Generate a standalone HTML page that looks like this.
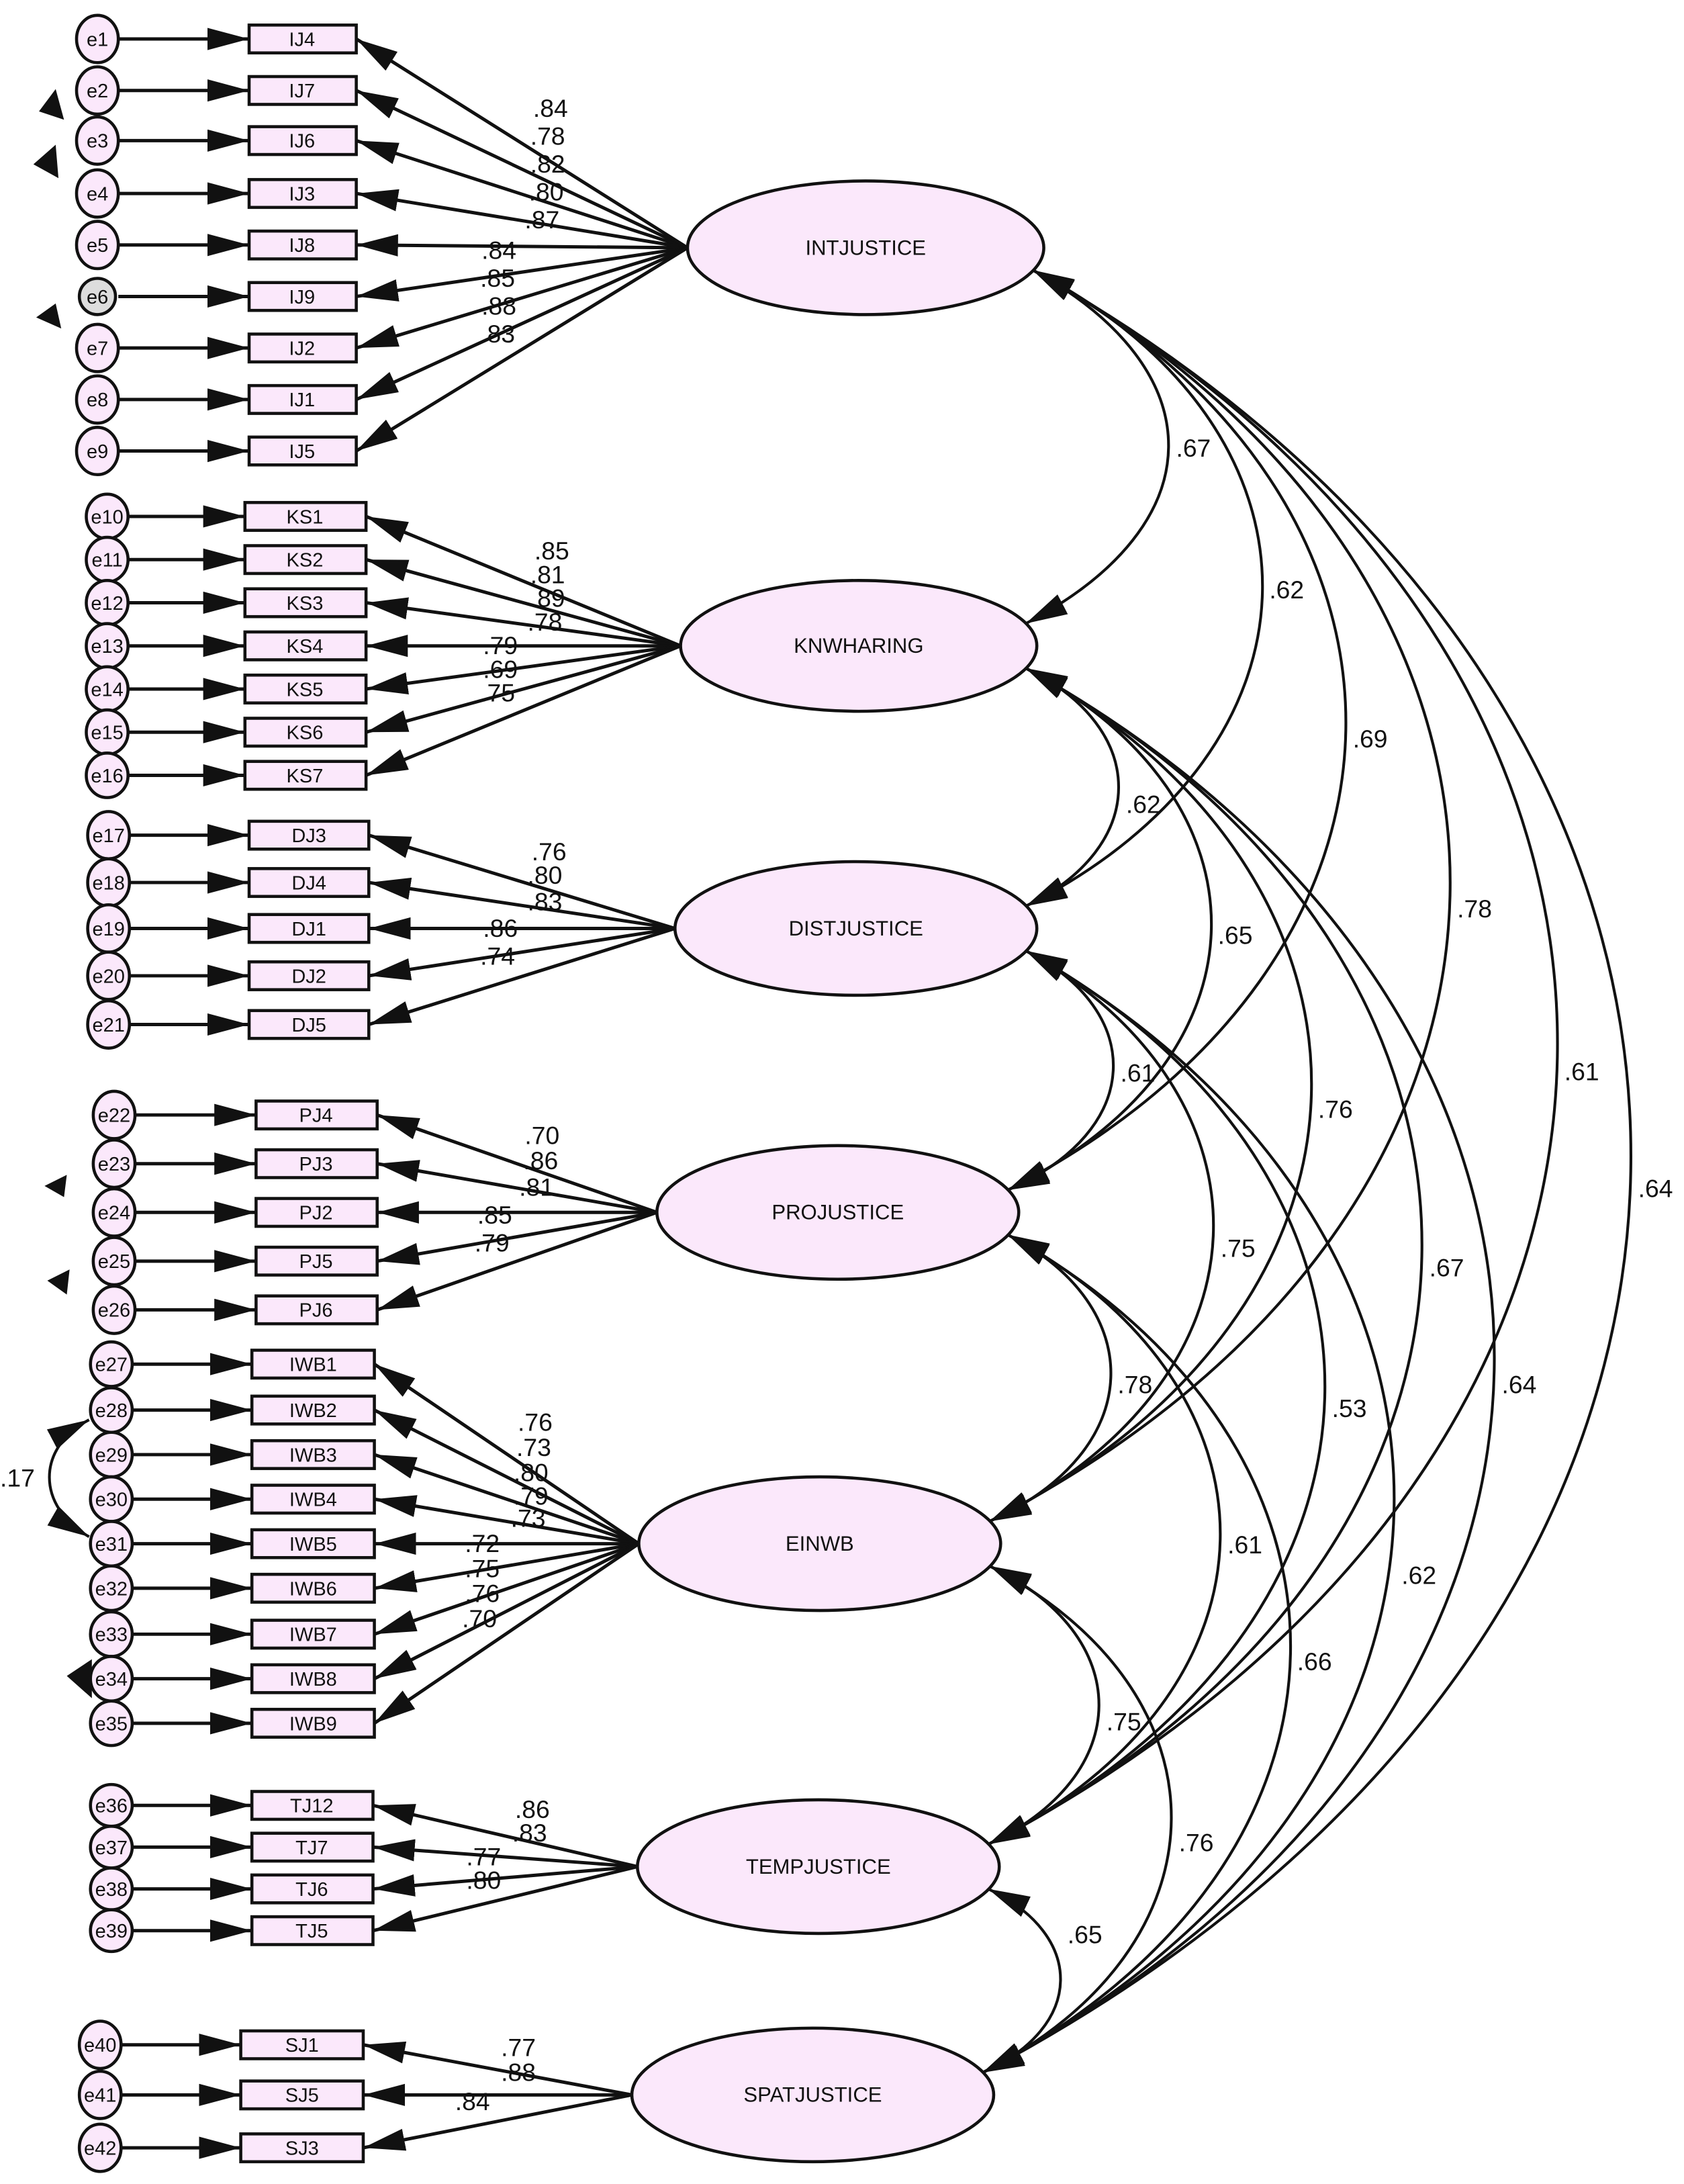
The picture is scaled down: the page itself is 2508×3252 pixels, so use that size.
<!DOCTYPE html>
<html><head><meta charset="utf-8"><style>
html,body{margin:0;padding:0;background:#fff;}
svg{display:block;}
text{font-family:"Liberation Sans",sans-serif;fill:#111;}
.b{fill:#fbe8fb;stroke:#111;stroke-width:2.2;}
.l{stroke:#111;stroke-width:2.4;fill:none;marker-end:url(#m2);}
.a{stroke:#111;stroke-width:2;fill:none;marker-start:url(#m);marker-end:url(#m);}
.nt{font-size:14px;text-anchor:middle;}
.lt{font-size:18px;}
.et{font-size:15px;text-anchor:middle;}
</style></head><body>
<svg width="2508" height="3252" viewBox="0 0 1210 1569" preserveAspectRatio="none" xmlns="http://www.w3.org/2000/svg">
<defs>
<marker id="m" markerUnits="userSpaceOnUse" markerWidth="32" markerHeight="18" refX="30" refY="8" orient="auto-start-reverse">
<path d="M0,0 L30,8 L0,16 z" fill="#111"/>
</marker>
<marker id="m2" markerUnits="userSpaceOnUse" markerWidth="32" markerHeight="18" refX="30" refY="8" orient="auto">
<path d="M0,0 L30,8 L0,16 z" fill="#111"/>
</marker>
</defs>
<g>
<!-- IJ -->
<path class="l" d="M85,28H179"/><path class="l" d="M85,65H179"/><path class="l" d="M85,101H179"/><path class="l" d="M85,139H179"/><path class="l" d="M85,176H179"/><path class="l" d="M85,213H179"/><path class="l" d="M85,250H179"/><path class="l" d="M85,287H179"/><path class="l" d="M85,324H179"/>
<path class="l" d="M494,178L256,28"/><path class="l" d="M494,178L256,65"/><path class="l" d="M494,178L256,101"/><path class="l" d="M494,178L256,139"/><path class="l" d="M494,178L256,176"/><path class="l" d="M494,178L256,213"/><path class="l" d="M494,178L256,250"/><path class="l" d="M494,178L256,287"/><path class="l" d="M494,178L256,324"/>
<!-- KS -->
<path class="l" d="M92,371H176"/><path class="l" d="M92,402H176"/><path class="l" d="M92,433H176"/><path class="l" d="M92,464H176"/><path class="l" d="M92,495H176"/><path class="l" d="M92,526H176"/><path class="l" d="M92,557H176"/>
<path class="l" d="M489,464L263,371"/><path class="l" d="M489,464L263,402"/><path class="l" d="M489,464L263,433"/><path class="l" d="M489,464L263,464"/><path class="l" d="M489,464L263,495"/><path class="l" d="M489,464L263,526"/><path class="l" d="M489,464L263,557"/>
<!-- DJ -->
<path class="l" d="M93,600H179"/><path class="l" d="M93,634H179"/><path class="l" d="M93,667H179"/><path class="l" d="M93,701H179"/><path class="l" d="M93,736H179"/>
<path class="l" d="M485,667L265,600"/><path class="l" d="M485,667L265,634"/><path class="l" d="M485,667L265,667"/><path class="l" d="M485,667L265,701"/><path class="l" d="M485,667L265,736"/>
<!-- PJ -->
<path class="l" d="M97,801H184"/><path class="l" d="M97,836H184"/><path class="l" d="M97,871H184"/><path class="l" d="M97,906H184"/><path class="l" d="M97,941H184"/>
<path class="l" d="M472,871L271,801"/><path class="l" d="M472,871L271,836"/><path class="l" d="M472,871L271,871"/><path class="l" d="M472,871L271,906"/><path class="l" d="M472,871L271,941"/>
<!-- IWB -->
<path class="l" d="M95,980H181"/><path class="l" d="M95,1013H181"/><path class="l" d="M95,1045H181"/><path class="l" d="M95,1077H181"/><path class="l" d="M95,1109H181"/><path class="l" d="M95,1141H181"/><path class="l" d="M95,1174H181"/><path class="l" d="M95,1206H181"/><path class="l" d="M95,1238H181"/>
<path class="l" d="M459,1109L269,980"/><path class="l" d="M459,1109L269,1013"/><path class="l" d="M459,1109L269,1045"/><path class="l" d="M459,1109L269,1077"/><path class="l" d="M459,1109L269,1109"/><path class="l" d="M459,1109L269,1141"/><path class="l" d="M459,1109L269,1174"/><path class="l" d="M459,1109L269,1206"/><path class="l" d="M459,1109L269,1238"/>
<path class="a" d="M64,1020 C26,1040 26,1082 64,1104"/>
<!-- TJ -->
<path class="l" d="M95,1297H181"/><path class="l" d="M95,1327H181"/><path class="l" d="M95,1357H181"/><path class="l" d="M95,1387H181"/>
<path class="l" d="M458,1341L268,1297"/><path class="l" d="M458,1341L268,1327"/><path class="l" d="M458,1341L268,1357"/><path class="l" d="M458,1341L268,1387"/>
<!-- SJ -->
<path class="l" d="M87,1469H173"/><path class="l" d="M87,1505H173"/><path class="l" d="M87,1543H173"/>
<path class="l" d="M454,1505L261,1469"/><path class="l" d="M454,1505L261,1505"/><path class="l" d="M454,1505L261,1543"/>
</g>

<g>
<path class="a" d="M742,194 C873,266 873,377 737,448"/>
<path class="a" d="M742,194 C963,308 963,537 737,651"/>
<path class="a" d="M742,194 C1045,359 1045,690 724,855"/>
<path class="a" d="M742,194 C1147,419 1147,868 711,1093"/>
<path class="a" d="M742,194 C1250,477 1250,1042 710,1325"/>
<path class="a" d="M742,194 C1321,518 1321,1165 706,1489"/>
<path class="a" d="M737,480 C826,523 826,608 737,651"/>
<path class="a" d="M737,480 C917,574 917,761 724,855"/>
<path class="a" d="M737,480 C1015,633 1015,940 711,1093"/>
<path class="a" d="M737,480 C1121,691 1121,1114 710,1325"/>
<path class="a" d="M737,480 C1191,732 1191,1237 706,1489"/>
<path class="a" d="M737,683 C823,726 823,812 724,855"/>
<path class="a" d="M737,683 C921,786 921,990 711,1093"/>
<path class="a" d="M737,683 C1028,844 1028,1164 710,1325"/>
<path class="a" d="M737,683 C1095,885 1095,1287 706,1489"/>
<path class="a" d="M724,887 C825,938 825,1042 711,1093"/>
<path class="a" d="M724,887 C930,997 930,1215 710,1325"/>
<path class="a" d="M724,887 C998,1038 998,1338 706,1489"/>
<path class="a" d="M711,1125 C816,1175 816,1275 710,1325"/>
<path class="a" d="M711,1125 C886,1216 886,1398 706,1489"/>
<path class="a" d="M710,1357 C780,1390 780,1456 706,1489"/>
</g>

<ellipse class="b" cx="622" cy="178" rx="128" ry="48"/>
<ellipse class="b" cx="617" cy="464" rx="128" ry="47"/>
<ellipse class="b" cx="615" cy="667" rx="130" ry="48"/>
<ellipse class="b" cx="602" cy="871" rx="130" ry="48"/>
<ellipse class="b" cx="589" cy="1109" rx="130" ry="48"/>
<ellipse class="b" cx="588" cy="1341" rx="130" ry="48"/>
<ellipse class="b" cx="584" cy="1505" rx="130" ry="48"/>
<g class="et">
<text x="622" y="183">INTJUSTICE</text>
<text x="617" y="469">KNWHARING</text>
<text x="615" y="672">DISTJUSTICE</text>
<text x="602" y="876">PROJUSTICE</text>
<text x="589" y="1114">EINWB</text>
<text x="588" y="1346">TEMPJUSTICE</text>
<text x="584" y="1510">SPATJUSTICE</text>
</g>

<g>
<rect class="b" x="179" y="18" width="77" height="20"/><rect class="b" x="179" y="55" width="77" height="20"/><rect class="b" x="179" y="91" width="77" height="20"/><rect class="b" x="179" y="129" width="77" height="20"/><rect class="b" x="179" y="166" width="77" height="20"/><rect class="b" x="179" y="203" width="77" height="20"/><rect class="b" x="179" y="240" width="77" height="20"/><rect class="b" x="179" y="277" width="77" height="20"/><rect class="b" x="179" y="314" width="77" height="20"/>
<rect class="b" x="176" y="361" width="87" height="20"/><rect class="b" x="176" y="392" width="87" height="20"/><rect class="b" x="176" y="423" width="87" height="20"/><rect class="b" x="176" y="454" width="87" height="20"/><rect class="b" x="176" y="485" width="87" height="20"/><rect class="b" x="176" y="516" width="87" height="20"/><rect class="b" x="176" y="547" width="87" height="20"/>
<rect class="b" x="179" y="590" width="86" height="20"/><rect class="b" x="179" y="624" width="86" height="20"/><rect class="b" x="179" y="657" width="86" height="20"/><rect class="b" x="179" y="691" width="86" height="20"/><rect class="b" x="179" y="726" width="86" height="20"/>
<rect class="b" x="184" y="791" width="87" height="20"/><rect class="b" x="184" y="826" width="87" height="20"/><rect class="b" x="184" y="861" width="87" height="20"/><rect class="b" x="184" y="896" width="87" height="20"/><rect class="b" x="184" y="931" width="87" height="20"/>
<rect class="b" x="181" y="970" width="88" height="20"/><rect class="b" x="181" y="1003" width="88" height="20"/><rect class="b" x="181" y="1035" width="88" height="20"/><rect class="b" x="181" y="1067" width="88" height="20"/><rect class="b" x="181" y="1099" width="88" height="20"/><rect class="b" x="181" y="1131" width="88" height="20"/><rect class="b" x="181" y="1164" width="88" height="20"/><rect class="b" x="181" y="1196" width="88" height="20"/><rect class="b" x="181" y="1228" width="88" height="20"/>
<rect class="b" x="181" y="1287" width="87" height="20"/><rect class="b" x="181" y="1317" width="87" height="20"/><rect class="b" x="181" y="1347" width="87" height="20"/><rect class="b" x="181" y="1377" width="87" height="20"/>
<rect class="b" x="173" y="1459" width="88" height="20"/><rect class="b" x="173" y="1495" width="88" height="20"/><rect class="b" x="173" y="1533" width="88" height="20"/>
</g>
<g class="nt">
<text x="217" y="33">IJ4</text><text x="217" y="70">IJ7</text><text x="217" y="106">IJ6</text><text x="217" y="144">IJ3</text><text x="217" y="181">IJ8</text><text x="217" y="218">IJ9</text><text x="217" y="255">IJ2</text><text x="217" y="292">IJ1</text><text x="217" y="329">IJ5</text>
<text x="219" y="376">KS1</text><text x="219" y="407">KS2</text><text x="219" y="438">KS3</text><text x="219" y="469">KS4</text><text x="219" y="500">KS5</text><text x="219" y="531">KS6</text><text x="219" y="562">KS7</text>
<text x="222" y="605">DJ3</text><text x="222" y="639">DJ4</text><text x="222" y="672">DJ1</text><text x="222" y="706">DJ2</text><text x="222" y="741">DJ5</text>
<text x="227" y="806">PJ4</text><text x="227" y="841">PJ3</text><text x="227" y="876">PJ2</text><text x="227" y="911">PJ5</text><text x="227" y="946">PJ6</text>
<text x="225" y="985">IWB1</text><text x="225" y="1018">IWB2</text><text x="225" y="1050">IWB3</text><text x="225" y="1082">IWB4</text><text x="225" y="1114">IWB5</text><text x="225" y="1146">IWB6</text><text x="225" y="1179">IWB7</text><text x="225" y="1211">IWB8</text><text x="225" y="1243">IWB9</text>
<text x="224" y="1302">TJ12</text><text x="224" y="1332">TJ7</text><text x="224" y="1362">TJ6</text><text x="224" y="1392">TJ5</text>
<text x="217" y="1474">SJ1</text><text x="217" y="1510">SJ5</text><text x="217" y="1548">SJ3</text>
</g>

<g>
<ellipse class="b" cx="70" cy="28" rx="15" ry="17"/><ellipse class="b" cx="70" cy="65" rx="15" ry="17"/><ellipse class="b" cx="70" cy="101" rx="15" ry="17"/><ellipse class="b" cx="70" cy="139" rx="15" ry="17"/><ellipse class="b" cx="70" cy="176" rx="15" ry="17"/><ellipse class="b" cx="70" cy="213" rx="13" ry="13" style="fill:#ddd"/><ellipse class="b" cx="70" cy="250" rx="15" ry="17"/><ellipse class="b" cx="70" cy="287" rx="15" ry="17"/><ellipse class="b" cx="70" cy="324" rx="15" ry="17"/>
<ellipse class="b" cx="77" cy="371" rx="15" ry="16"/><ellipse class="b" cx="77" cy="402" rx="15" ry="16"/><ellipse class="b" cx="77" cy="433" rx="15" ry="16"/><ellipse class="b" cx="77" cy="464" rx="15" ry="16"/><ellipse class="b" cx="77" cy="495" rx="15" ry="16"/><ellipse class="b" cx="77" cy="526" rx="15" ry="16"/><ellipse class="b" cx="77" cy="557" rx="15" ry="16"/>
<ellipse class="b" cx="78" cy="600" rx="15" ry="17"/><ellipse class="b" cx="78" cy="634" rx="15" ry="17"/><ellipse class="b" cx="78" cy="667" rx="15" ry="17"/><ellipse class="b" cx="78" cy="701" rx="15" ry="17"/><ellipse class="b" cx="78" cy="736" rx="15" ry="17"/>
<ellipse class="b" cx="82" cy="801" rx="15" ry="17"/><ellipse class="b" cx="82" cy="836" rx="15" ry="17"/><ellipse class="b" cx="82" cy="871" rx="15" ry="17"/><ellipse class="b" cx="82" cy="906" rx="15" ry="17"/><ellipse class="b" cx="82" cy="941" rx="15" ry="17"/>
<ellipse class="b" cx="80" cy="980" rx="15" ry="16"/><ellipse class="b" cx="80" cy="1013" rx="15" ry="16"/><ellipse class="b" cx="80" cy="1045" rx="15" ry="16"/><ellipse class="b" cx="80" cy="1077" rx="15" ry="16"/><ellipse class="b" cx="80" cy="1109" rx="15" ry="16"/><ellipse class="b" cx="80" cy="1141" rx="15" ry="16"/><ellipse class="b" cx="80" cy="1174" rx="15" ry="16"/><ellipse class="b" cx="80" cy="1206" rx="15" ry="16"/><ellipse class="b" cx="80" cy="1238" rx="15" ry="16"/>
<ellipse class="b" cx="80" cy="1297" rx="15" ry="15"/><ellipse class="b" cx="80" cy="1327" rx="15" ry="15"/><ellipse class="b" cx="80" cy="1357" rx="15" ry="15"/><ellipse class="b" cx="80" cy="1387" rx="15" ry="15"/>
<ellipse class="b" cx="72" cy="1469" rx="15" ry="17"/><ellipse class="b" cx="72" cy="1505" rx="15" ry="17"/><ellipse class="b" cx="72" cy="1543" rx="15" ry="17"/>
</g>
<g class="nt">
<text x="70" y="33">e1</text><text x="70" y="70">e2</text><text x="70" y="106">e3</text><text x="70" y="144">e4</text><text x="70" y="181">e5</text><text x="70" y="218">e6</text><text x="70" y="255">e7</text><text x="70" y="292">e8</text><text x="70" y="329">e9</text>
<text x="77" y="376">e10</text><text x="77" y="407">e11</text><text x="77" y="438">e12</text><text x="77" y="469">e13</text><text x="77" y="500">e14</text><text x="77" y="531">e15</text><text x="77" y="562">e16</text>
<text x="78" y="605">e17</text><text x="78" y="639">e18</text><text x="78" y="672">e19</text><text x="78" y="706">e20</text><text x="78" y="741">e21</text>
<text x="82" y="806">e22</text><text x="82" y="841">e23</text><text x="82" y="876">e24</text><text x="82" y="911">e25</text><text x="82" y="946">e26</text>
<text x="80" y="985">e27</text><text x="80" y="1018">e28</text><text x="80" y="1050">e29</text><text x="80" y="1082">e30</text><text x="80" y="1114">e31</text><text x="80" y="1146">e32</text><text x="80" y="1179">e33</text><text x="80" y="1211">e34</text><text x="80" y="1243">e35</text>
<text x="80" y="1302">e36</text><text x="80" y="1332">e37</text><text x="80" y="1362">e38</text><text x="80" y="1392">e39</text>
<text x="72" y="1474">e40</text><text x="72" y="1510">e41</text><text x="72" y="1548">e42</text>
</g>
<g fill="#111">
<path d="M28,80 L40,64 L46,86 z"/><path d="M24,118 L40,104 L42,128 z"/><path d="M26,228 L40,218 L44,236 z"/>
<path d="M32,852 L48,844 L46,860 z"/><path d="M34,920 L50,912 L48,930 z"/><path d="M48,1204 L66,1192 L66,1220 z"/>
</g>

<g class="lt">
<text x="383" y="84">.84</text><text x="381" y="104">.78</text><text x="381" y="124">.82</text><text x="380" y="144">.80</text><text x="377" y="164">.87</text>
<text x="346" y="186">.84</text><text x="345" y="206">.85</text><text x="346" y="226">.88</text><text x="345" y="246">.83</text>
<text x="384" y="402">.85</text><text x="381" y="419">.81</text><text x="381" y="436">.89</text><text x="379" y="453">.78</text><text x="347" y="470">.79</text><text x="347" y="487">.69</text><text x="345" y="504">.75</text>
<text x="382" y="618">.76</text><text x="379" y="635">.80</text><text x="379" y="654">.83</text><text x="347" y="673">.86</text><text x="345" y="693">.74</text>
<text x="377" y="822">.70</text><text x="376" y="840">.86</text><text x="373" y="859">.81</text><text x="343" y="879">.85</text><text x="341" y="899">.79</text>
<text x="372" y="1028">.76</text><text x="371" y="1046">.73</text><text x="369" y="1064">.80</text><text x="369" y="1081">.79</text><text x="367" y="1097">.73</text><text x="334" y="1115">.72</text><text x="334" y="1133">.75</text><text x="334" y="1151">.76</text><text x="332" y="1169">.70</text>
<text x="370" y="1306">.86</text><text x="368" y="1323">.83</text><text x="335" y="1340">.77</text><text x="335" y="1357">.80</text>
<text x="360" y="1477">.77</text><text x="360" y="1495">.88</text><text x="327" y="1516">.84</text>
<text x="0" y="1068">.17</text>
<text x="845" y="328">.67</text><text x="912" y="430">.62</text><text x="972" y="537">.69</text><text x="1047" y="659">.78</text><text x="1124" y="776">.61</text><text x="1177" y="860">.64</text>
<text x="809" y="584">.62</text><text x="875" y="678">.65</text><text x="947" y="803">.76</text><text x="1027" y="917">.67</text><text x="1079" y="1001">.64</text>
<text x="805" y="777">.61</text><text x="877" y="903">.75</text><text x="957" y="1018">.53</text><text x="1007" y="1138">.62</text>
<text x="803" y="1001">.78</text><text x="882" y="1116">.61</text><text x="932" y="1200">.66</text>
<text x="795" y="1243">.75</text><text x="847" y="1330">.76</text><text x="767" y="1396">.65</text>
</g>
</svg>
</body></html>
